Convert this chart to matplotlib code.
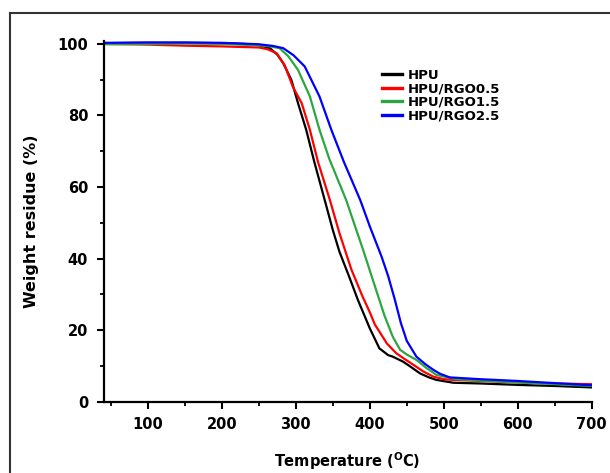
import matplotlib
matplotlib.use("Agg")
import matplotlib.pyplot as plt
from matplotlib.lines import Line2D
from matplotlib.ticker import MultipleLocator

plt.rcParams["font.family"] = ["DejaVu Sans"]
plt.rcParams["font.weight"] = "bold"
plt.rcParams["mathtext.fontset"] = "dejavusans"

# TGA curves
t_hpu = [40, 100, 150, 200, 230, 250, 265, 275, 283, 294, 303, 314, 325, 339, 350, 359,
         372, 384, 400, 413, 425, 431, 445, 455, 468, 480, 490, 513, 549, 600, 650, 700]
w_hpu = [100.2, 100.3, 100.3, 100.2, 100.0, 99.6, 98.8, 97.0, 94.6, 89.9, 83.4, 76.0, 67.0,
         56.4, 48.0, 41.9, 35.0, 28.4, 20.5, 14.9, 13.0, 12.6, 11.2, 9.8, 7.9, 6.8, 6.1, 5.3,
         5.1, 4.7, 4.4, 4.0]

t_rgo05 = [40, 100, 150, 200, 250, 262, 274, 285, 296, 308, 319, 330, 346, 359, 375, 390,
           400, 407, 413, 423, 436, 448, 459, 472, 486, 500, 513, 550, 600, 650, 700]
w_rgo05 = [100.0, 99.8, 99.5, 99.3, 99.0, 98.5, 97.4, 94.0, 88.0, 83.4, 76.0, 67.0, 56.4,
           47.1, 37.0, 29.5, 25.0, 21.5, 19.6, 16.3, 13.5, 11.8, 10.3, 8.5, 7.0, 6.3, 6.1,
           5.8, 5.4, 5.1, 4.9]

t_rgo15 = [40, 100, 150, 200, 250, 265, 278, 290, 303, 319, 332, 345, 368, 391, 413, 420,
           431, 441, 450, 463, 476, 490, 517, 550, 600, 650, 700]
w_rgo15 = [99.9, 100.0, 100.1, 100.0, 99.6, 99.3, 98.8, 96.5, 92.7, 85.3, 76.0, 68.0, 56.4,
           42.4, 28.4, 24.0, 18.2, 14.5, 13.2, 11.7, 9.5, 7.5, 6.3, 5.9, 5.4, 4.9, 4.4]

t_rgo25 = [40, 100, 150, 200, 250, 270, 283, 297, 312, 332, 348, 365, 387, 400, 416, 425,
           434, 442, 450, 463, 475, 486, 495, 508, 549, 600, 650, 700]
w_rgo25 = [100.3, 100.4, 100.4, 100.3, 99.9, 99.4, 98.8, 96.8, 93.7, 85.3, 76.0, 67.0, 56.4,
           49.0, 40.5, 35.0, 28.4, 22.0, 17.0, 12.6, 10.5, 8.9, 7.8, 6.8, 6.3, 5.8, 5.2, 4.6]

labels = ["HPU", "HPU/RGO0.5", "HPU/RGO1.5", "HPU/RGO2.5"]
colors = ["#000000", "#ff0000", "#2ca640", "#0000ff"]
series = [(t_hpu, w_hpu), (t_rgo05, w_rgo05), (t_rgo15, w_rgo15), (t_rgo25, w_rgo25)]

fig = plt.figure(figsize=(6.1, 4.73), dpi=100)
fig.patch.set_facecolor("white")
ax = fig.add_axes([0.1697, 0.1507, 0.8003, 0.7633])

for (t, w), c, lab in zip(series, colors, labels):
    ax.plot(t, w, color=c, lw=1.6, label=lab)

ax.set_xlim(40, 700)
ax.set_ylim(0, 100.9)
ax.xaxis.set_major_locator(MultipleLocator(100))
ax.xaxis.set_minor_locator(MultipleLocator(50))
ax.yaxis.set_major_locator(MultipleLocator(20))
ax.yaxis.set_minor_locator(MultipleLocator(10))
ax.tick_params(which="major", direction="out", length=5, width=1.5, labelsize=10.5, pad=6)
ax.tick_params(which="minor", direction="out", length=3, width=1.3)
for s in ["top", "right"]:
    ax.spines[s].set_visible(False)
for s in ["left", "bottom"]:
    ax.spines[s].set_linewidth(1.6)

ax.set_xlabel("Temperature ($^{\\mathbf{O}}$C)", fontsize=10.5, fontweight="bold", labelpad=13)
ax.set_ylabel("Weight residue (%)", fontsize=11.5, fontweight="bold", labelpad=13)

leg = fig.legend(loc="upper left", bbox_to_anchor=(0.6257, 0.854), frameon=False,
                 prop={"size": 9.5, "weight": "bold"}, borderpad=0, borderaxespad=0,
                 labelspacing=0.03, handlelength=1.55, handletextpad=0.4)
for h in leg.get_lines():
    h.set_linewidth(2.4)

# outer frame around the figure (cut off at right and bottom in the reference)
fig.add_artist(Line2D([10 / 610, 10 / 610], [1 - 13 / 473, -0.1], transform=fig.transFigure,
                      color="#333333", lw=1.5))
fig.add_artist(Line2D([10 / 610, 1.1], [1 - 13 / 473, 1 - 13 / 473], transform=fig.transFigure,
                      color="#333333", lw=1.5))

fig.savefig("out.png", dpi=100, facecolor="white")
